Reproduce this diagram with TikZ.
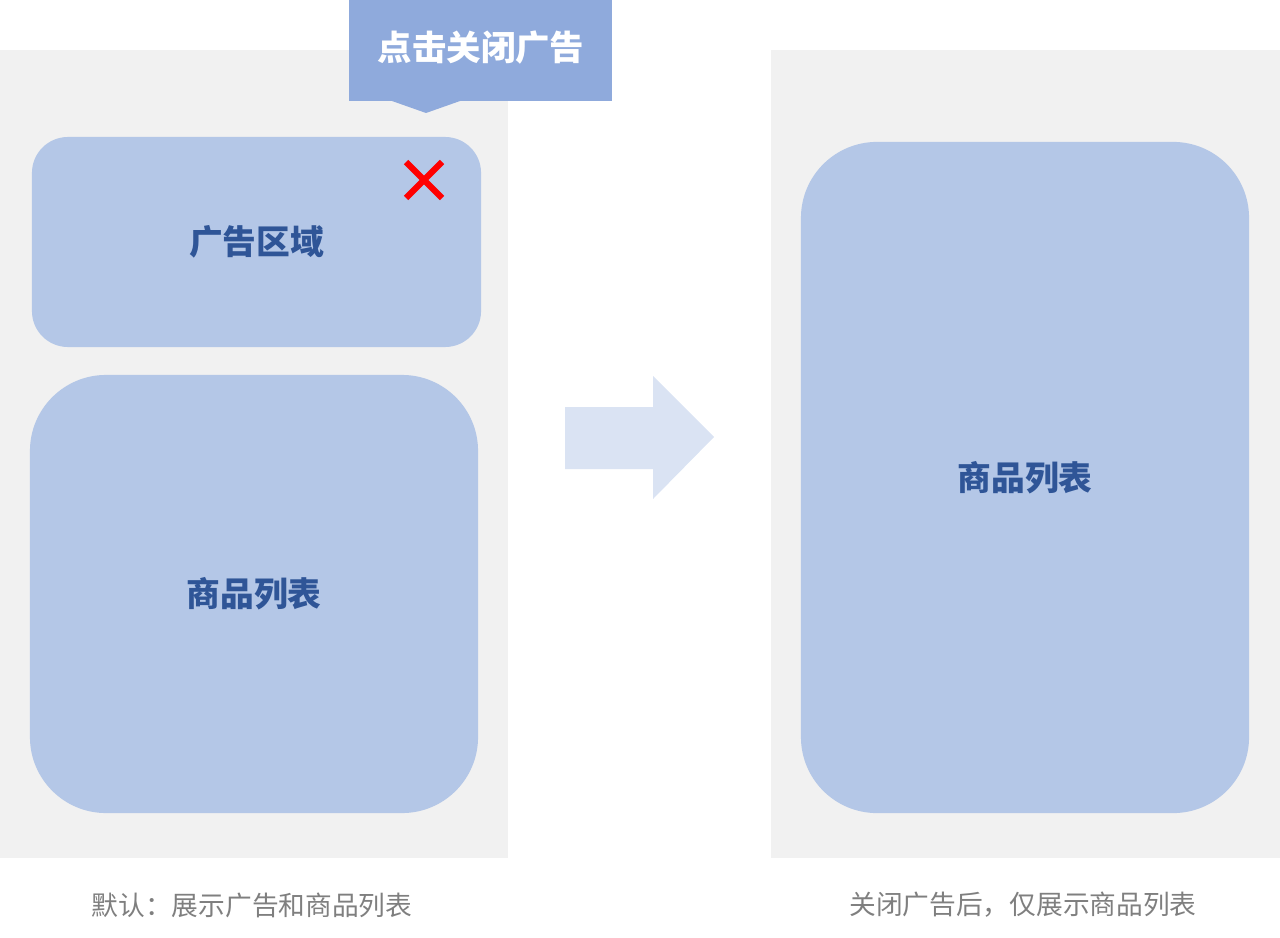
\documentclass[tikz,border=0pt]{standalone}
\usepackage{fontspec}
\usepackage{xcolor}
\newfontfamily\cjk{Noto Sans CJK SC}
\definecolor{panelgray}{HTML}{F1F1F1}
\definecolor{boxblue}{HTML}{B4C7E7}
\definecolor{tipblue}{HTML}{8FAADC}
\definecolor{arrowblue}{HTML}{DAE3F3}
\definecolor{labelblue}{HTML}{2F5597}
\definecolor{captiongray}{HTML}{7F7F7F}
\definecolor{closered}{HTML}{FF0000}

\begin{document}
\begin{tikzpicture}[x=0.025cm, y=-0.025cm, font=\cjk,
  panel/.style={fill=panelgray},
  listbox/.style={fill=boxblue, rounded corners=1.9cm, inner sep=0pt,
    minimum width=11.2cm, text=labelblue, font=\cjk\bfseries\fontsize{24}{28}\selectfont},
  caption/.style={text=captiongray, font=\cjk\fontsize{19}{23}\selectfont}]
  \useasboundingbox (0,0) rectangle (1280,938);
  % gray backgrounds
  \fill[panel] (0,50) rectangle (508,858);
  \fill[panel] (771,50) rectangle (1280,858);
  % left: ad area and list
  \node[listbox, rounded corners=0.9cm, minimum width=11.225cm, minimum height=5.25cm]
    (ad) at (256.5,242) {广告区域};
  \node[listbox, minimum height=10.95cm] (listL) at (254,594) {商品列表};
  \draw[closered, line width=4.4pt] (406,162) -- (442,198) (442,162) -- (406,198);
  % callout
  \fill[tipblue] (349,0) rectangle (612,101);
  \fill[tipblue] (392,101) -- (426,113) -- (460,101) -- cycle;
  \node[text=white, font=\cjk\bfseries\fontsize{24.5}{28}\selectfont] (tip) at (481,48) {点击关闭广告};
  % arrow
  \fill[arrowblue] (565,407) -- (653,407) -- (653,376) -- (714,437)
    -- (653,499) -- (653,469) -- (565,469) -- cycle;
  % right: list only
  \node[listbox, minimum height=16.775cm] (listR) at (1025,477.5) {商品列表};
  \node[caption] (capL) at (252,905) {默认：展示广告和商品列表};
  \node[caption] (capR) at (1023,905) {关闭广告后，仅展示商品列表};
\end{tikzpicture}
\end{document}
